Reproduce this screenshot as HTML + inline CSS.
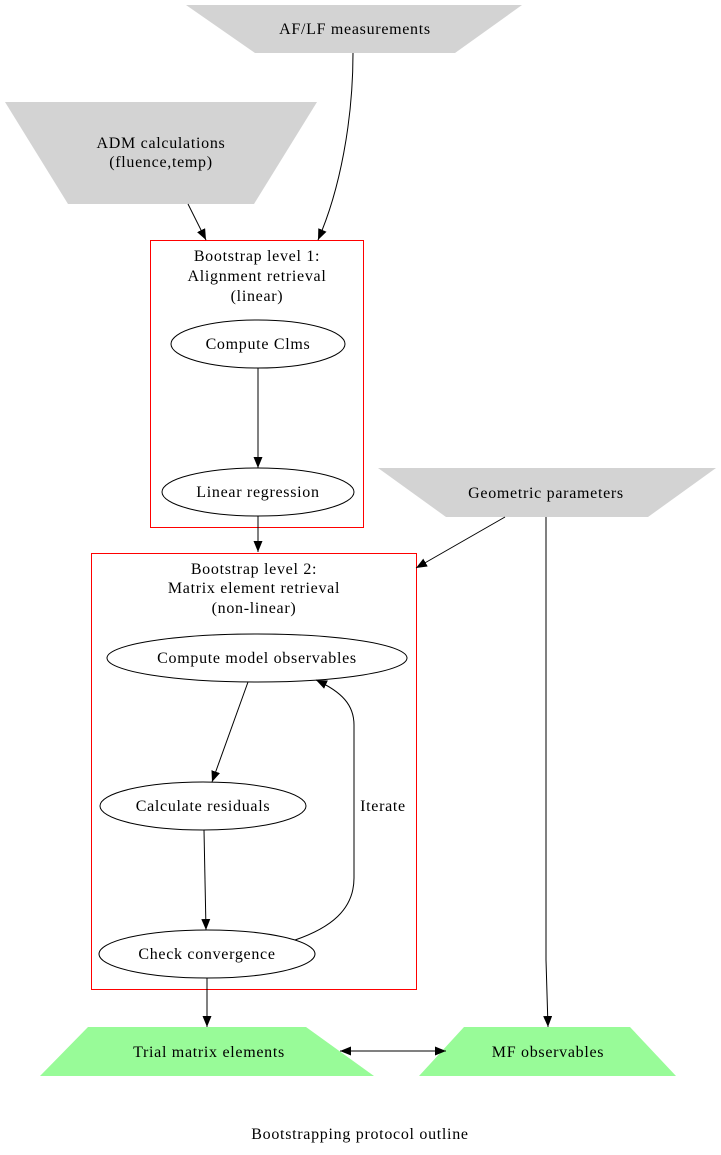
<!DOCTYPE html>
<html><head><meta charset="utf-8"><style>html,body{margin:0;padding:0;background:#fff}svg{display:block}</style></head>
<body>
<svg width="721" height="1155" viewBox="0 0 721 1155" xmlns="http://www.w3.org/2000/svg" font-family="Liberation Serif, serif" font-size="16" letter-spacing="0.7" text-anchor="middle">
<defs><marker id="a" markerWidth="11" markerHeight="9" refX="11" refY="4.5" orient="auto" markerUnits="userSpaceOnUse"><path d="M0,0 L11,4.5 L0,9 z" fill="#000"/></marker>
<marker id="s" markerWidth="11" markerHeight="9" refX="0" refY="4.5" orient="auto" markerUnits="userSpaceOnUse"><path d="M11,0 L0,4.5 L11,9 z" fill="#000"/></marker></defs>
<rect x="150.5" y="240.5" width="213" height="287" fill="none" stroke="#f00"/>
<rect x="91.5" y="553.5" width="325" height="436" fill="none" stroke="#f00"/>
<polygon points="186,5 522,5 455,53 255,53" fill="#d3d3d3"/>
<text x="355" y="34">AF/LF measurements</text>
<polygon points="5,102 317,102 254,204 68,204" fill="#d3d3d3"/>
<text x="161" y="148">ADM calculations</text><text x="161" y="167">(fluence,temp)</text>
<polygon points="378,468 716,468 648,517 446,517" fill="#d3d3d3"/>
<text x="546" y="498">Geometric parameters</text>
<text x="257" y="261">Bootstrap level 1:</text><text x="257" y="281">Alignment retrieval</text><text x="257" y="301">(linear)</text>
<ellipse cx="258" cy="344" rx="87" ry="24" fill="none" stroke="#000"/><text x="258" y="349">Compute Clms</text>
<ellipse cx="258" cy="492" rx="96" ry="24" fill="none" stroke="#000"/><text x="258" y="497">Linear regression</text>
<text x="254" y="574">Bootstrap level 2:</text><text x="254" y="593">Matrix element retrieval</text><text x="254" y="613">(non-linear)</text>
<ellipse cx="257" cy="658" rx="150" ry="24" fill="none" stroke="#000"/><text x="257" y="663">Compute model observables</text>
<ellipse cx="203" cy="806" rx="103" ry="24" fill="none" stroke="#000"/><text x="203" y="811">Calculate residuals</text>
<ellipse cx="207" cy="954" rx="108" ry="24" fill="none" stroke="#000"/><text x="207" y="959">Check convergence</text>
<polygon points="88,1027 306,1027 374,1076 40,1076" fill="#98fb98"/>
<text x="209" y="1057">Trial matrix elements</text>
<polygon points="464,1027 630,1027 676,1076 419,1076" fill="#98fb98"/>
<text x="548" y="1057">MF observables</text>
<text x="360" y="1139">Bootstrapping protocol outline</text>
<g fill="none" stroke="#000">
<path d="M353,53 C353,120 340,190 318,240" marker-end="url(#a)"/>
<path d="M188,204 L206,240" marker-end="url(#a)"/>
<path d="M258,368 L258,468" marker-end="url(#a)"/>
<path d="M258,516 L258,552" marker-end="url(#a)"/>
<path d="M505,517 L416,568" marker-end="url(#a)"/>
<path d="M546,517 L546,960 L548,1027" marker-end="url(#a)"/>
<path d="M248,682 L212,782" marker-end="url(#a)"/>
<path d="M204,830 L206,930" marker-end="url(#a)"/>
<path d="M295,940 C330,928 354,910 354,878 L354,725 C354,705 342,692 316,680" marker-end="url(#a)"/>
<path d="M207,978 L207,1027" marker-end="url(#a)"/>
<path d="M340,1051 L446,1051" marker-start="url(#s)" marker-end="url(#a)"/>
</g>
<text x="383" y="811">Iterate</text>
</svg>
</body></html>
